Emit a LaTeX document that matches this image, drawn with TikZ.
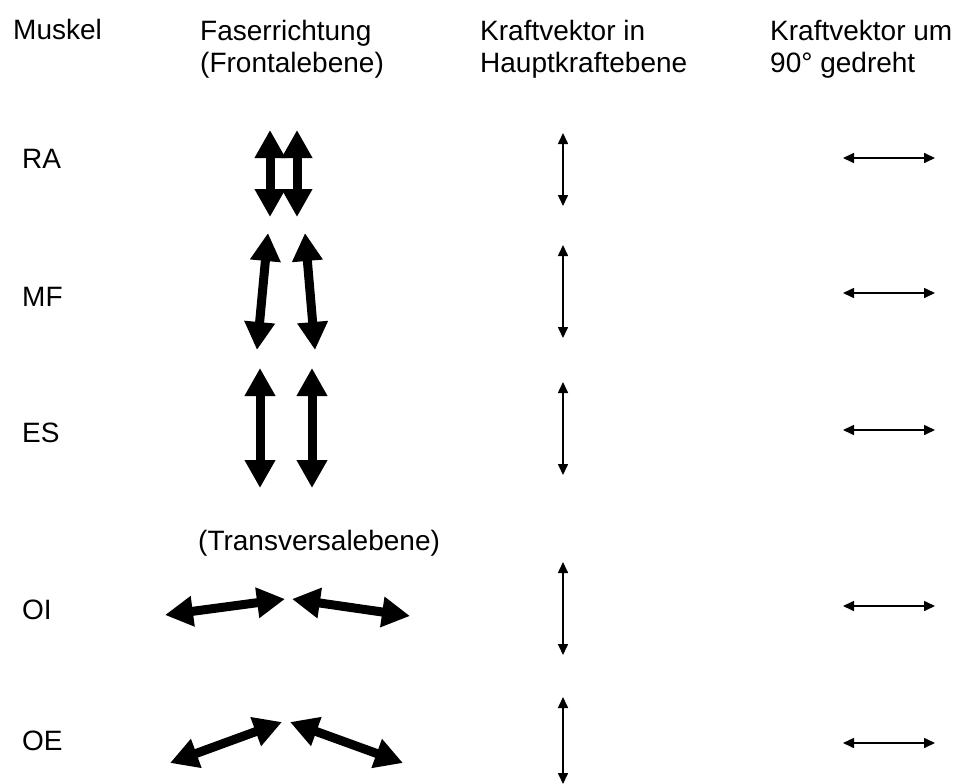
\documentclass[tikz,border=0pt]{standalone}
\usepackage{fontspec}
\setmainfont{Liberation Sans}
\usetikzlibrary{arrows.meta}

\tikzset{
    txt/.style={anchor=base west, inner sep=0pt, align=left,
        font=\fontsize{28}{32}\selectfont},
    fat/.style={line width=9pt,
        {Triangle[width=29pt,length=28pt]}-{Triangle[width=29pt,length=28pt]}},
    vec/.style={line width=1.6pt,
        {Triangle[width=10pt,length=11pt]}-{Triangle[width=10pt,length=11pt]}},
}

\begin{document}
\begin{tikzpicture}[x=1pt, y=-1pt]
        \useasboundingbox (0,0) rectangle (966,784);
        \pgfmathsetmacro{\colA}{13}
        \pgfmathsetmacro{\colB}{200}
        \pgfmathsetmacro{\colC}{480}
        \pgfmathsetmacro{\colD}{770}
        \pgfmathsetmacro{\vecX}{563}

        % headings (base is the second line)
        \node[txt] (muskel) at (\colA, 40) {Muskel};
        \node[txt] (faser) at (\colB, 72) {Faserrichtung\\(Frontalebene)};
        \node[txt] (haupt) at (\colC, 72) {Kraftvektor in\\Hauptkraftebene};
        \node[txt] (gedreht) at (\colD, 72) {Kraftvektor um\\90° gedreht};

        % muscles
        \node[txt] (ra) at (22, 168) {RA};
        \node[txt] (mf) at (22, 306) {MF};
        \node[txt] (es) at (22, 442) {ES};
        \node[txt] (oi) at (22, 619) {OI};
        \node[txt] (oe) at (22, 750) {OE};
        \node[txt] (transv) at (198, 550) {(Transversalebene)};

        % fibre directions
        \draw[fat] (270, 130) -- (270, 217);
        \draw[fat] (297, 130) -- (297, 217);
        \draw[fat] (268, 233) -- (257, 350);
        \draw[fat] (305, 233) -- (315, 350);
        \draw[fat] (260, 368) -- (260, 488);
        \draw[fat] (312, 368) -- (312, 488);
        \draw[fat] (165, 615) -- (285, 599);
        \draw[fat] (292, 599) -- (410, 616);
        \draw[fat] (170, 763) -- (282, 722);
        \draw[fat] (290, 722) -- (403, 763);

        % force vectors
        \foreach \ya/\yb/\yh in {133/206/158, 245/338/293, 382/475/430,
                562/655/606, 697/784/743} {
            \draw[vec] (\vecX, \ya) -- (\vecX, \yb);
            \draw[vec] (843, \yh) -- (935, \yh);
        }
    \end{tikzpicture}
\end{document}
